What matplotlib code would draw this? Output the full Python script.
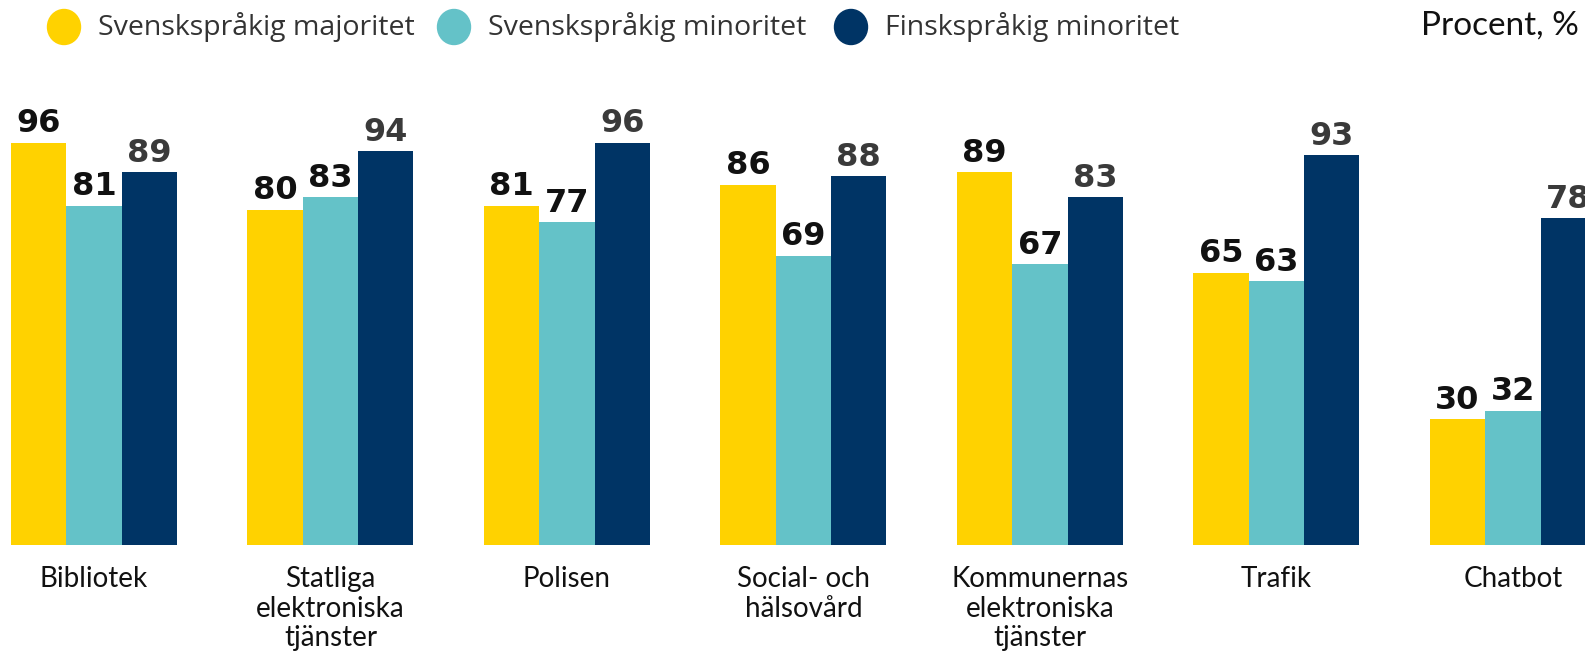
import matplotlib
matplotlib.use('Agg')
import matplotlib.pyplot as plt
import numpy as np

categories = ['Bibliotek', 'Statliga\nelektroniska\ntjänster', 'Polisen',
              'Social- och\nhälsovård', 'Kommunernas\nelektroniska\ntjänster',
              'Trafik', 'Chatbot']
series_names = ['Svenskspråkig majoritet', 'Svenskspråkig minoritet', 'Finskspråkig minoritet']
sv_major = [96, 80, 81, 86, 89, 65, 30]
sv_minor = [81, 83, 77, 69, 67, 63, 32]
fi_minor = [89, 94, 96, 88, 83, 93, 78]

colors = ['#FFD200', '#64C2C8', '#003465']
label_colors = ['#111111', '#111111', '#3a3a3a']

fig = plt.figure(figsize=(15.85, 6.53), dpi=100)
ax = fig.add_axes([0, 0.1654, 1, 0.6417])

x = np.arange(len(categories))
w = 0.234
for i, vals in enumerate([sv_major, sv_minor, fi_minor]):
    pos = x + (i - 1) * w
    ax.bar(pos, vals, width=w, color=colors[i], linewidth=0)
    for px, v in zip(pos, vals):
        ax.annotate(str(v), (px, v), xytext=(0, 7.5), textcoords='offset points',
                    ha='center', va='baseline', fontsize=23, fontweight='bold',
                    color=label_colors[i], family='DejaVu Sans')

ax.set_xlim(-0.3975, 6.305)
ax.set_ylim(0, 100)
ax.axis('off')

for px, name in zip(x, categories):
    ax.annotate(name, (px, 0), xytext=(0, -15), textcoords='offset points',
                ha='center', va='top', fontsize=20, color='#111111',
                family='Lato', linespacing=1.18)

# legend
leg_x = [64, 454, 851]
for lx, name, c in zip(leg_x, series_names, colors):
    fig.patches.append(matplotlib.patches.Ellipse((lx / 1585, 1 - 27 / 653), 33 / 1585, 35 / 653,
                                                   transform=fig.transFigure, color=c))
    fig.text((lx + 34) / 1585, 1 - 27 / 653, name, ha='left', va='center',
             fontsize=20.5, color='#333333', family='Open Sans')

fig.text(1421 / 1585, 1 - 26 / 653, 'Procent, %', ha='left', va='center',
         fontsize=24, color='#111111', family='Lato')

fig.savefig('out.png', dpi=100)
